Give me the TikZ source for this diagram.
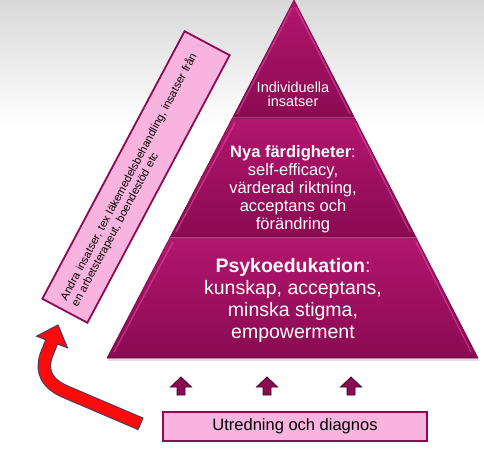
\documentclass[tikz,border=0pt]{standalone}
\usepackage{fontspec}
\setmainfont{Liberation Sans}
\usetikzlibrary{calc}
\definecolor{pyrtop}{HTML}{B2166E}
\definecolor{pyrbot}{HTML}{8A0A51}
\definecolor{pyredge}{HTML}{760846}
\definecolor{pyrhl}{HTML}{E055A5}
\definecolor{pinkfill}{HTML}{F9B3DF}
\definecolor{plum}{HTML}{8C0A52}
\definecolor{plumdark}{HTML}{4A0028}
\definecolor{arrowline}{HTML}{3C3C66}
\definecolor{bggray}{HTML}{D8D8D8}
\definecolor{redarrow}{HTML}{FF0A0A}
\tikzset{
  tier/.style={top color=pyrtop, bottom color=pyrbot, draw=pyredge, line width=0.6pt},
  hl/.style={pyrhl, line width=1.3pt, opacity=0.55, line cap=round},
  tiertext/.style={text=white, align=center, inner sep=0pt},
  pinkbox/.style={fill=pinkfill, draw=plum, line width=1.8pt},
  smallarrow/.style={fill=plum, draw=plumdark, line width=0.8pt, line join=miter},
}
\begin{document}
\begin{tikzpicture}[x=1pt,y=-1pt]
\useasboundingbox (0,0) rectangle (484,449);
% background
\fill[top color=bggray, bottom color=white] (0,0) rectangle (484,125);
% pyramid corners
\coordinate (A) at (294,0);
\coordinate (L1) at (232.4,118);
\coordinate (R1) at (354.6,118);
\coordinate (L2) at (170.2,237);
\coordinate (R2) at (415.8,237);
\coordinate (L3) at (107,358);
\coordinate (R3) at (478,358);
% shadow
\fill[black, opacity=0.12] (108,358) rectangle (479,361);
% tiers
\path[tier] (A) -- (R1) -- (L1) -- cycle;
\path[tier] (L1) -- (R1) -- (R2) -- (L2) -- cycle;
\path[tier] (L2) -- (R2) -- (R3) -- (L3) -- cycle;
% bevel highlights
\draw[hl] (237,114) -- (292,8);
\draw[hl] (296,8) -- (350,114);
\draw[hl] (176,232) -- (235,123);
\draw[hl] (355,123) -- (410,232);
\draw[hl] (114,352) -- (173,242);
\draw[hl] (416,242) -- (471,352);
\draw[white, opacity=0.25, line width=1pt] (L1) -- (R1);
\draw[white, opacity=0.25, line width=1pt] (L2) -- (R2);
% texts
\node[tiertext, font=\fontsize{14.5}{14}\selectfont] (t1) at (293,94) {Individuella\\insatser};
\node[tiertext, font=\fontsize{16.5}{18}\selectfont] (t2) at (293,189) {\textbf{Nya färdigheter}:\\self-efficacy,\\värderad riktning,\\acceptans och\\förändring};
\node[tiertext, font=\fontsize{19.5}{22}\selectfont] (t3) at (293,300) {\textbf{Psykoedukation}:\\kunskap, acceptans,\\minska stigma,\\empowerment};
% small up arrows
\foreach \x/\n in {181/u1,267/u2,351/u3}{
  \path[smallarrow] (\x,377) -- ++(10.5,10) -- ++(-6.5,0) -- ++(0,8) -- ++(-8,0) -- ++(0,-8) -- ++(-6.5,0) -- cycle;
  \coordinate (\n) at (\x,386);
}
% bottom box
\node[pinkbox, minimum width=264pt, minimum height=29pt, inner sep=0pt, font=\fontsize{16.5}{18}\selectfont] (diag) at (295,426.5) {Utredning och diagnos};
% rotated box
\node[pinkbox, rotate=62, minimum width=303pt, minimum height=51pt, inner xsep=9pt, inner ysep=0pt, text width=285pt, align=left, font=\fontsize{11.2}{12.5}\selectfont] (other) at (136,177) {Andra insatser, tex läkemedelsbehandling, insatser från\\en arbetsterapeut, boendestöd etc};
% red arrow
\coordinate (rt) at (141,424);
\coordinate (rb) at (52,341);
\draw[arrowline, line width=13.5pt] (rt) -- (66,392) .. controls (47,384) and (41,372) .. (46,356) -- (rb);
\filldraw[fill=redarrow, draw=arrowline, line width=1pt, line join=miter] (58,325) -- (67.5,347.8) -- (36.5,336.2) -- cycle;
\draw[redarrow, line width=11.5pt, shorten <=1pt, shorten >=-1.5pt] (rt) -- (66,392) .. controls (47,384) and (41,372) .. (46,356) -- (rb);
\end{tikzpicture}
\end{document}
